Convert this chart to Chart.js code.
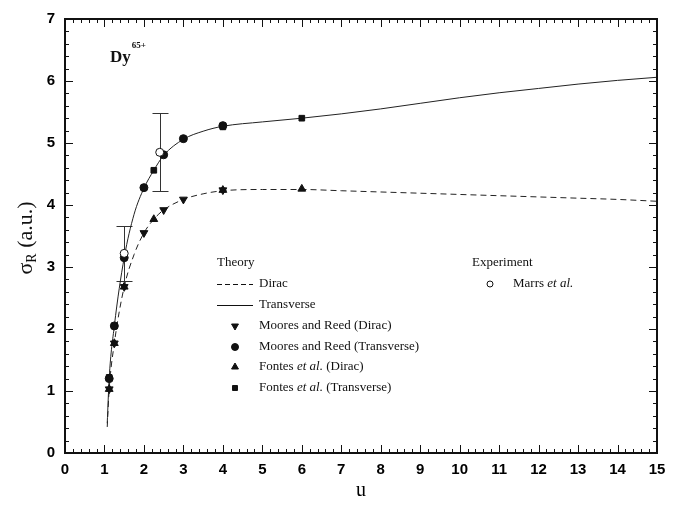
<!DOCTYPE html>
<html>
<head>
<meta charset="utf-8">
<script src="https://cdn.jsdelivr.net/npm/chart.js@4.4.1/dist/chart.umd.min.js"></script>
<style>
  html, body { margin: 0; padding: 0; background: #fff; }
  #wrap { width: 679px; height: 511px; }
</style>
</head>
<body>
<div id="wrap"><canvas id="c" width="679" height="511"></canvas></div>
<script>
// theory curves, sampled in u
const curveU      = [1.07, 1.12, 1.25, 1.5, 1.75, 2, 2.25, 2.5, 3, 3.5, 4, 5, 6, 7, 8, 9, 10, 11, 12, 13, 14, 15];
const diracCurve  = [0.42, 1.03, 1.77, 2.68, 3.2, 3.55, 3.77, 3.92, 4.09, 4.18, 4.23, 4.25, 4.25, 4.23, 4.21, 4.19, 4.17, 4.15, 4.13, 4.11, 4.09, 4.06];
const transCurve  = [0.48, 1.21, 2.05, 3.15, 3.85, 4.27, 4.56, 4.8, 5.06, 5.19, 5.27, 5.34, 5.40, 5.47, 5.55, 5.64, 5.73, 5.81, 5.88, 5.95, 6.01, 6.06];

// Moores and Reed
const mrDiracU = [1.12, 1.25, 1.5, 2, 2.5, 3, 4];
const mrDiracS = [1.03, 1.77, 2.68, 3.55, 3.92, 4.09, 4.24];
const mrTransU = [1.12, 1.25, 1.5, 2, 2.5, 3, 4];
const mrTransS = [1.2, 2.05, 3.15, 4.28, 4.81, 5.07, 5.28];

// Fontes et al.
const fDiracU = [1.12, 1.25, 1.5, 2.25, 4, 6];
const fDiracS = [1.03, 1.77, 2.68, 3.77, 4.24, 4.26];
const fTransU = [1.12, 1.25, 2.25, 4, 6];
const fTransS = [1.22, 2.05, 4.56, 5.26, 5.40];

// Marrs et al. measurement with error bars
const marrsU  = [1.5, 2.4];
const marrsS  = [3.22, 4.85];
const marrsLo = [2.78, 4.22];
const marrsHi = [3.66, 5.49];

const pts = (xs, ys) => xs.map((x, i) => ({ x: x, y: ys[i] }));
const INK = '#111';
const SERIF = '"Liberation Serif", "DejaVu Serif", serif';

const markerBase = { showLine: false, borderColor: INK, backgroundColor: INK, borderWidth: 1 };

// frame with inward ticks on all four sides
const framePlugin = {
  id: 'frame',
  afterDraw(chart) {
    const { ctx, chartArea: a, scales: { x, y } } = chart;
    ctx.save();
    ctx.strokeStyle = INK;
    ctx.lineWidth = 1;
    ctx.beginPath();
    for (let i = 0; i <= 75; i++) {
      const px = Math.round(x.getPixelForValue(i / 5)) + 0.5;
      const len = i % 5 === 0 ? 8 : 4;
      ctx.moveTo(px, a.bottom); ctx.lineTo(px, a.bottom - len);
      ctx.moveTo(px, a.top); ctx.lineTo(px, a.top + len);
    }
    for (let i = 0; i <= 35; i++) {
      const py = Math.round(y.getPixelForValue(i / 5)) + 0.5;
      const len = i % 5 === 0 ? 8 : 4;
      ctx.moveTo(a.left, py); ctx.lineTo(a.left + len, py);
      ctx.moveTo(a.right, py); ctx.lineTo(a.right - len, py);
    }
    ctx.stroke();
    ctx.lineWidth = 2;
    ctx.strokeRect(a.left, a.top, a.right - a.left, a.bottom - a.top);
    ctx.restore();
  }
};

// vertical error bars for the experiment
const errorBars = {
  id: 'errorBars',
  beforeDatasetsDraw(chart) {
    const { ctx, scales: { x, y } } = chart;
    ctx.save();
    ctx.strokeStyle = '#333';
    ctx.lineWidth = 1;
    ctx.beginPath();
    marrsU.forEach((u, i) => {
      const px = Math.round(x.getPixelForValue(u)) + 0.5;
      const lo = Math.round(y.getPixelForValue(marrsLo[i])) + 0.5;
      const hi = Math.round(y.getPixelForValue(marrsHi[i])) + 0.5;
      ctx.moveTo(px, lo); ctx.lineTo(px, hi);
      ctx.moveTo(px - 8, lo); ctx.lineTo(px + 8, lo);
      ctx.moveTo(px - 8, hi); ctx.lineTo(px + 8, hi);
    });
    ctx.stroke();
    ctx.restore();
  }
};

// text runs: [text, italic]
function drawRuns(ctx, runs, x, y, size) {
  runs.forEach(([t, it]) => {
    ctx.font = (it ? 'italic ' : '') + size + 'px ' + SERIF;
    ctx.fillText(t, x, y);
    x += ctx.measureText(t).width;
  });
}

const annotations = {
  id: 'annotations',
  afterDraw(chart) {
    const ctx = chart.ctx;
    const dp = Chart.helpers.drawPoint;
    ctx.save();
    ctx.fillStyle = INK;
    ctx.strokeStyle = INK;
    ctx.textBaseline = 'middle';

    // ion label
    ctx.font = 'bold 17px ' + SERIF;
    ctx.fillText('Dy', 110, 58);
    const w = ctx.measureText('Dy').width;
    ctx.font = 'bold 9px ' + SERIF;
    ctx.fillText('65+', 110 + w + 1, 46);

    // y axis title with subscript
    ctx.save();
    ctx.translate(26, 238);
    ctx.rotate(-Math.PI / 2);
    ctx.font = '22px ' + SERIF;
    const wS = ctx.measureText('\u03c3').width;
    const wT = ctx.measureText(' (a.u.)').width;
    ctx.font = '14px ' + SERIF;
    const wR = ctx.measureText('R').width;
    let tx = -(wS + wR + wT) / 2;
    ctx.font = '22px ' + SERIF;
    ctx.fillText('\u03c3', tx, 0); tx += wS;
    ctx.font = '14px ' + SERIF;
    ctx.fillText('R', tx, 6); tx += wR;
    ctx.font = '22px ' + SERIF;
    ctx.fillText(' (a.u.)', tx, 0);
    ctx.restore();

    // legend
    const size = 13;
    const tX = 259, mX = 235;
    const rows = [263, 284, 305, 326, 347, 367, 388];
    drawRuns(ctx, [['Theory']], 217, rows[0], size);
    ctx.lineWidth = 1;
    ctx.setLineDash([5, 3]);
    ctx.beginPath(); ctx.moveTo(217, rows[1] + 0.5); ctx.lineTo(253, rows[1] + 0.5); ctx.stroke();
    ctx.setLineDash([]);
    ctx.beginPath(); ctx.moveTo(217, rows[2] + 0.5); ctx.lineTo(253, rows[2] + 0.5); ctx.stroke();
    drawRuns(ctx, [['Dirac']], tX, rows[1], size);
    drawRuns(ctx, [['Transverse']], tX, rows[2], size);
    ctx.fillStyle = INK;
    dp(ctx, { pointStyle: 'triangle', rotation: 180, radius: 4, borderWidth: 1 }, mX, rows[3]);
    dp(ctx, { pointStyle: 'circle', radius: 3.5, borderWidth: 1 }, mX, rows[4]);
    dp(ctx, { pointStyle: 'triangle', rotation: 0, radius: 4, borderWidth: 1 }, mX, rows[5]);
    dp(ctx, { pointStyle: 'rect', radius: 3.5, borderWidth: 1 }, mX, rows[6]);
    drawRuns(ctx, [['Moores and Reed (Dirac)']], tX, rows[3], size);
    drawRuns(ctx, [['Moores and Reed (Transverse)']], tX, rows[4], size);
    drawRuns(ctx, [['Fontes '], ['et al.', true], [' (Dirac)']], tX, rows[5], size);
    drawRuns(ctx, [['Fontes '], ['et al.', true], [' (Transverse)']], tX, rows[6], size);

    drawRuns(ctx, [['Experiment']], 472, rows[0], size);
    ctx.fillStyle = '#fff';
    dp(ctx, { pointStyle: 'circle', radius: 3, borderWidth: 1 }, 490, rows[1]);
    ctx.fillStyle = INK;
    drawRuns(ctx, [['Marrs '], ['et al.', true]], 513, rows[1], size);
    ctx.restore();
  }
};

new Chart(document.getElementById('c'), {
  type: 'scatter',
  data: {
    datasets: [
      { label: 'Marrs et al.', data: pts(marrsU, marrsS), ...markerBase, backgroundColor: '#fff',
        pointStyle: 'circle', pointRadius: 4, order: 0 },
      { label: 'Fontes et al. (Transverse)', data: pts(fTransU, fTransS), ...markerBase,
        pointStyle: 'rect', pointRadius: 4, order: 1 },
      { label: 'Fontes et al. (Dirac)', data: pts(fDiracU, fDiracS), ...markerBase,
        pointStyle: 'triangle', pointRadius: 4.5, order: 2 },
      { label: 'Moores and Reed (Transverse)', data: pts(mrTransU, mrTransS), ...markerBase,
        pointStyle: 'circle', pointRadius: 4, order: 3 },
      { label: 'Moores and Reed (Dirac)', data: pts(mrDiracU, mrDiracS), ...markerBase,
        pointStyle: 'triangle', rotation: 180, pointRadius: 4.5, order: 4 },
      { label: 'Transverse', data: pts(curveU, transCurve), showLine: true, pointRadius: 0,
        borderColor: '#222', borderWidth: 1, cubicInterpolationMode: 'monotone', order: 5 },
      { label: 'Dirac', data: pts(curveU, diracCurve), showLine: true, pointRadius: 0,
        borderColor: '#222', borderWidth: 1, borderDash: [6, 4], cubicInterpolationMode: 'monotone', order: 6 }
    ]
  },
  options: {
    responsive: false,
    animation: false,
    events: [],
    layout: { padding: { top: 18, right: 22, left: 0, bottom: 0 } },
    plugins: { legend: { display: false }, tooltip: { enabled: false } },
    scales: {
      x: {
        type: 'linear', min: 0, max: 15,
        grid: { display: false, drawTicks: false },
        border: { display: false },
        ticks: { stepSize: 1, padding: 8, color: '#000', font: { family: '"Liberation Sans", Arial, sans-serif', size: 15, weight: 'bold' } },
        title: { display: true, text: 'u', color: '#000', font: { family: SERIF, size: 20 }, padding: { top: 0, bottom: 8 } },
        afterFit(s) { s.height = 58; }
      },
      y: {
        type: 'linear', min: 0, max: 7,
        grid: { display: false, drawTicks: false },
        border: { display: false },
        ticks: { stepSize: 1, padding: 10, color: '#000', font: { family: '"Liberation Sans", Arial, sans-serif', size: 15, weight: 'bold' } },
        afterFit(s) { s.width = 65; }
      }
    }
  },
  plugins: [errorBars, framePlugin, annotations]
});
</script>
</body>
</html>
